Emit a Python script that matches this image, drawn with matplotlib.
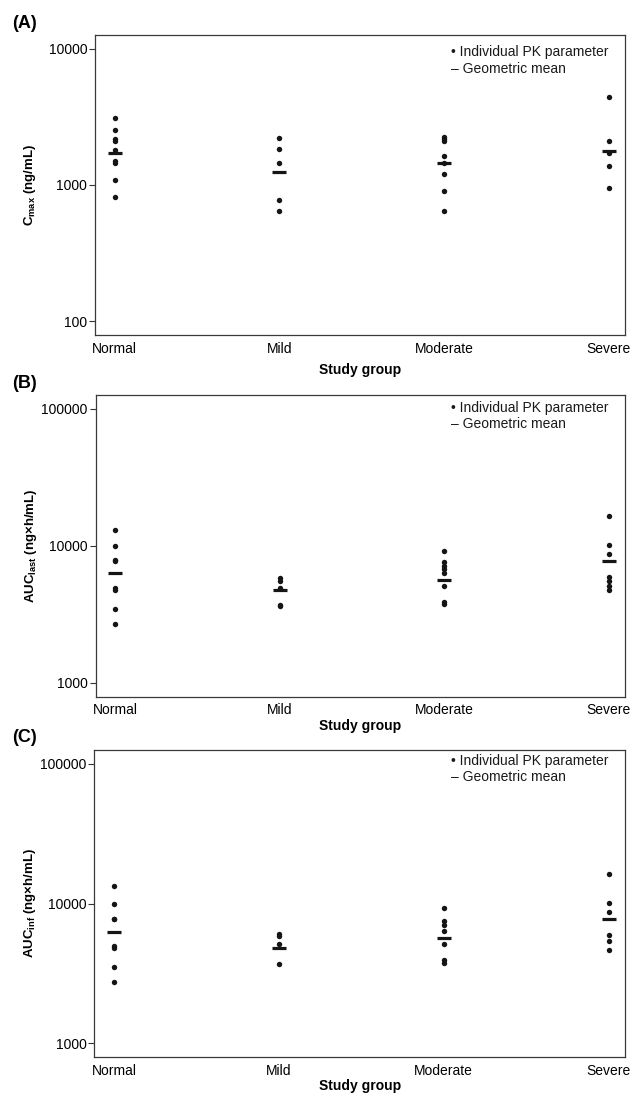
import matplotlib
matplotlib.use('Agg')
import matplotlib.pyplot as plt
from matplotlib.ticker import FixedLocator, NullLocator

plt.rcParams['font.family'] = ['Liberation Sans', 'DejaVu Sans']
plt.rcParams['mathtext.default'] = 'regular'

groups = ['Normal', 'Mild', 'Moderate', 'Severe']

# (A) Cmax, ng/mL
cmax_normal = [3110, 2550, 2160, 2100, 1800, 1500, 1460, 1090, 810]
cmax_mild = [2230, 1850, 1460, 770, 650]
cmax_moderate = [2260, 2190, 2110, 1630, 1440, 1200, 900, 650]
cmax_severe = [4400, 2110, 1720, 1380, 950]
cmax_gmean = [1710, 1250, 1440, 1780]

# (B) AUClast, ng*h/mL
auclast_normal = [13100, 10000, 7900, 7730, 4930, 4780, 3430, 2700]
auclast_mild = [5780, 5520, 4930, 3700, 3650]
auclast_moderate = [9090, 7550, 7140, 6760, 6320, 5050, 3860, 3780]
auclast_severe = [16500, 10050, 8740, 5900, 5520, 5100, 4720]
auclast_gmean = [6280, 4720, 5650, 7680]

# (C) AUCinf, ng*h/mL
aucinf_normal = [13300, 10000, 7800, 7750, 4940, 4830, 3480, 2740]
aucinf_mild = [6090, 5890, 5100, 3710]
aucinf_moderate = [9300, 7500, 7070, 6330, 5100, 3920, 3750]
aucinf_severe = [16400, 10100, 8700, 5920, 5400, 4680]
aucinf_gmean = [6300, 4780, 5700, 7710]

W, H = 633, 1094


def make_panel(fig, box, values, gmean, yticks, ylabel, tag, leg_y, xpad):
    l, t, r, b = box
    ax = fig.add_axes([l / W, 1 - b / H, (r - l) / W, (b - t) / H])
    for i, vals in enumerate(values):
        ax.plot([i] * len(vals), vals, 'o', color='#151515', ms=3.9, mew=0)
    ax.plot(range(len(gmean)), gmean, '_', color='#151515', ms=9.5, mew=2.3)
    ax.set_yscale('log')
    ax.set_ylim(yticks[0] / 10 ** 0.1, yticks[-1] * 10 ** 0.1)
    ax.set_xlim(-0.12, 3.1)
    ax.yaxis.set_major_locator(FixedLocator(yticks))
    ax.yaxis.set_minor_locator(NullLocator())
    ax.set_yticklabels([str(v) for v in yticks])
    ax.set_xticks(range(len(groups)))
    ax.set_xticklabels(groups)
    ax.tick_params(axis='y', length=4, width=0.8, pad=1.5, labelsize=10, color='#333333')
    ax.tick_params(axis='x', length=0, pad=5, labelsize=10)
    for s in ax.spines.values():
        s.set_color('#3a3a3a')
        s.set_linewidth(0.9)
    ax.set_ylabel(ylabel, fontsize=9.5, fontweight='bold')
    ax.yaxis.set_label_coords(-0.107, 0.5)
    ax.set_xlabel('Study group', fontsize=10, fontweight='bold', labelpad=xpad)
    ax.text(0.672, leg_y[0], '\u2022 Individual PK parameter', transform=ax.transAxes,
            fontsize=10, va='center', color='#1a1a1a')
    ax.text(0.672, leg_y[1], '\u2013 Geometric mean', transform=ax.transAxes,
            fontsize=10, va='center', color='#1a1a1a')
    fig.text(12 / W, 1 - (t - 12) / H, tag, fontsize=13, fontweight='bold', va='center')
    return ax


def main():
    fig = plt.figure(figsize=(W / 100, H / 100), dpi=100)

    make_panel(fig, (95, 35, 625, 335),
               [cmax_normal, cmax_mild, cmax_moderate, cmax_severe], cmax_gmean,
               [100, 1000, 10000], 'C$_{max}$ (ng/mL)', '(A)', (0.942, 0.887), 5)
    make_panel(fig, (95.5, 395, 625, 696.5),
               [auclast_normal, auclast_mild, auclast_moderate, auclast_severe], auclast_gmean,
               [1000, 10000, 100000], 'AUC$_{last}$ (ng\u00d7h/mL)', '(B)', (0.956, 0.903), 1)
    make_panel(fig, (94.5, 750, 625, 1057),
               [aucinf_normal, aucinf_mild, aucinf_moderate, aucinf_severe], aucinf_gmean,
               [1000, 10000, 100000], 'AUC$_{inf}$ (ng\u00d7h/mL)', '(C)', (0.965, 0.911), 1)

    fig.savefig('out.png', dpi=100)


if __name__ == '__main__':
    main()
